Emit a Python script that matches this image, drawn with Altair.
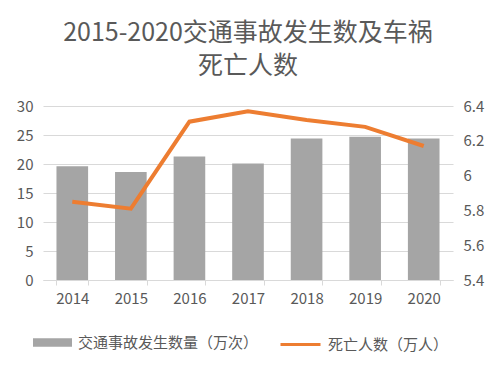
import altair as alt
import pandas as pd

years = ["2014", "2015", "2016", "2017", "2018", "2019", "2020"]
accidents = [19.6, 18.6, 21.3, 20.1, 24.4, 24.7, 24.4]
deaths = [5.85, 5.81, 6.31, 6.37, 6.32, 6.28, 6.17]

bar_name = "交通事故发生数量（万次）"
line_name = "死亡人数（万人）"
title_lines = ["2015-2020交通事故发生数及车祸", "死亡人数"]
left_ticks = [0, 5, 10, 15, 20, 25, 30]
right_ticks = [5.4, 5.6, 5.8, 6.0, 6.2, 6.4]

FONT = "Noto Sans CJK SC"
TXT = "#595959"
GRID = "#d9d9d9"

df = pd.DataFrame({
    "year": years,
    "accidents": accidents,
    "deaths": deaths,
    "bar_series": [bar_name] * len(years),
    "line_series": [line_name] * len(years),
})

x = alt.X(
    "year:N",
    title=None,
    scale=alt.Scale(paddingInner=0.46, paddingOuter=0.23),
    axis=alt.Axis(labelAngle=0, tickBand="extent", domainColor=GRID, tickColor=GRID,
                  tickSize=5, labelPadding=6, labelColor=TXT, labelFontSize=15, labelFont=FONT),
)

bars = alt.Chart(df).mark_bar(color="#A5A5A5").encode(
    x=x,
    y=alt.Y("accidents:Q", title=None,
            scale=alt.Scale(domain=[0, 30], nice=False),
            axis=alt.Axis(values=left_ticks, grid=True, gridColor=GRID, domain=False, ticks=False,
                          labelPadding=10, labelColor=TXT, labelFontSize=15, labelFont=FONT)),
    color=alt.Color("bar_series:N", scale=alt.Scale(range=["#A5A5A5"]),
                    legend=alt.Legend(orient="none", legendX=-10, legendY=217, title=None,
                                      symbolType="M-1,-0.22H1V0.22H-1Z", symbolSize=1521,
                                      symbolStrokeWidth=0, labelFontSize=15, labelColor=TXT,
                                      labelFont=FONT, labelLimit=0, labelOffset=6)),
)

line = alt.Chart(df).mark_line(strokeWidth=4).encode(
    x=x,
    y=alt.Y("deaths:Q", title=None,
            scale=alt.Scale(domain=[5.4, 6.4], nice=False, zero=False),
            axis=alt.Axis(orient="right", values=right_ticks, format=".1~f", grid=False,
                          domain=False, ticks=False, labelPadding=10, labelColor=TXT,
                          labelFontSize=15, labelFont=FONT)),
    stroke=alt.Stroke("line_series:N", scale=alt.Scale(range=["#ED7D31"]),
                      legend=alt.Legend(orient="none", legendX=236, legendY=217, title=None,
                                        symbolType="stroke", symbolStrokeWidth=3, symbolSize=1600,
                                        labelFontSize=15, labelColor=TXT, labelFont=FONT,
                                        labelLimit=0, labelOffset=6)),
)

chart = alt.layer(bars, line).resolve_scale(y="independent", color="independent").properties(
    width=410,
    height=174,
    autosize=alt.AutoSizeParams(type="none"),
    padding={"left": 35, "top": 98, "right": 39, "bottom": 81},
    title=alt.Title(title_lines, fontSize=25, color=TXT, fontWeight="normal", font=FONT,
                    lineHeight=33, offset=20, anchor="middle"),
).configure_view(stroke=None)

chart.save("out.html", embed_options={"renderer": "svg", "actions": False})
